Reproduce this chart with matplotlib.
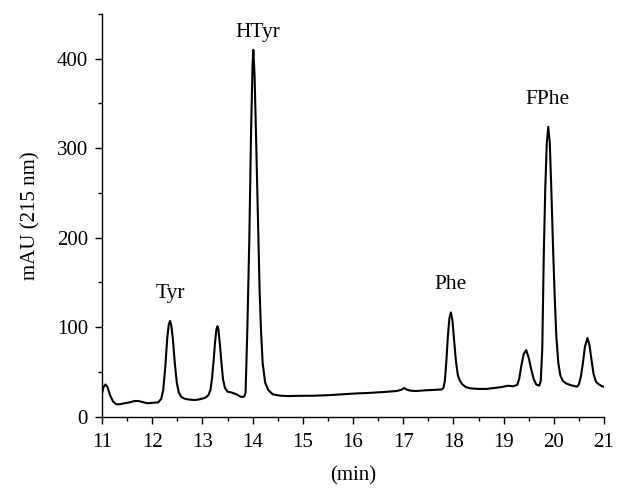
import matplotlib
matplotlib.use("Agg")
import matplotlib.pyplot as plt
from matplotlib.ticker import MultipleLocator

# trace (time in min, absorbance in mAU)
t = [11.0, 11.03, 11.07, 11.11, 11.16, 11.22, 11.28, 11.35, 11.45, 11.55, 11.65, 11.72, 11.8, 11.9, 12.0,
     12.12, 12.18, 12.22, 12.26, 12.30, 12.33, 12.355, 12.38, 12.41, 12.45, 12.49, 12.53, 12.58, 12.65, 12.75, 12.85,
     12.95, 13.05, 13.12, 13.16, 13.19, 13.22, 13.25, 13.28, 13.30, 13.32, 13.35, 13.38, 13.41, 13.45, 13.5, 13.58,
     13.68, 13.75, 13.8, 13.84, 13.86, 13.895, 13.935, 13.97, 14.0, 14.015, 14.04, 14.07, 14.114, 14.14, 14.167,
     14.2, 14.25, 14.31, 14.4, 14.55, 14.7, 14.9, 15.2, 15.5, 15.8, 16.07, 16.3, 16.6, 16.87, 16.96, 17.02, 17.08,
     17.15, 17.27, 17.45, 17.65, 17.77, 17.80, 17.83, 17.86, 17.89, 17.92, 17.95, 17.98, 18.01, 18.05, 18.09,
     18.13, 18.18, 18.25, 18.33, 18.5, 18.66, 18.8, 18.95, 19.09, 19.18, 19.27, 19.31, 19.35, 19.40, 19.45, 19.50,
     19.55, 19.60, 19.65, 19.71, 19.74, 19.77, 19.80, 19.83, 19.86, 19.89, 19.92, 19.95, 19.99, 20.02, 20.05,
     20.09, 20.13, 20.18, 20.25, 20.35, 20.46, 20.50, 20.54, 20.58, 20.62, 20.67, 20.71, 20.75, 20.79, 20.84,
     20.9, 20.96, 21.0]
mau = [26, 33, 36, 33, 24, 17, 14, 13.8, 15, 16, 17.5, 17.5, 16.5, 15, 15.5,
       16, 20, 30, 55, 88, 103, 107, 102, 88, 60, 38, 27, 22, 20, 19, 18.6,
       19.5, 21, 24, 30, 42, 60, 82, 98, 101, 97, 80, 60, 42, 32, 28, 27,
       25, 22.5, 22, 23, 27, 97, 200, 320, 395, 410, 380, 310, 200, 140, 97,
       60, 38, 30, 25, 23.5, 23, 23.3, 23.4, 24, 25, 26, 26.5, 27.5, 28.7, 30, 32, 30,
       29, 28.7, 29.5, 30, 30.5, 32, 40, 62, 90, 110, 116.5, 108, 88, 62, 46,
       40, 36, 33, 31.7, 31, 31, 32, 33, 34.6, 34, 35.4, 42, 56, 70, 74.4, 66,
       53, 42, 36, 34.6, 40, 75, 180, 255, 306, 324, 306, 255, 180, 131, 90,
       60, 46, 40, 37, 35, 33.5, 36, 45, 60, 78, 88, 80, 64, 48, 39,
       36, 34, 33.5]

peak_names = ["Tyr", "HTyr", "Phe", "FPhe"]
peak_x = [12.355, 14.1, 17.95, 19.88]
peak_y = [138, 429, 148, 354]

plt.rcParams["font.family"] = ["Liberation Serif", "DejaVu Serif"]

fig = plt.figure(figsize=(6.25, 4.98), dpi=100)
ax = fig.add_axes([0.1632, 0.1633, 0.8032, 0.8086])

ax.plot(t, mau, color="black", linewidth=1.5)

for name, px, py in zip(peak_names, peak_x, peak_y):
    ax.text(px, py, name, ha="center", va="center", fontsize=15.5)

ax.set_xlim(11, 21)
ax.set_ylim(0, 450)
ax.xaxis.set_major_locator(MultipleLocator(1))
ax.xaxis.set_minor_locator(MultipleLocator(0.5))
ax.yaxis.set_major_locator(MultipleLocator(100))
ax.yaxis.set_minor_locator(MultipleLocator(50))

ax.spines["top"].set_visible(False)
ax.spines["right"].set_visible(False)
for s in ["left", "bottom"]:
    ax.spines[s].set_linewidth(1.0)

ax.tick_params(which="major", length=5, width=1.0, labelsize=15)
ax.tick_params(axis="x", which="major", pad=7)
ax.tick_params(axis="y", which="major", pad=5)
ax.tick_params(which="minor", length=3, width=1.0)

ax.set_xlabel("(min)", fontsize=15, labelpad=10)
ax.set_ylabel("mAU (215 nm)", fontsize=15, labelpad=12)

fig.savefig("out.png", dpi=100)
